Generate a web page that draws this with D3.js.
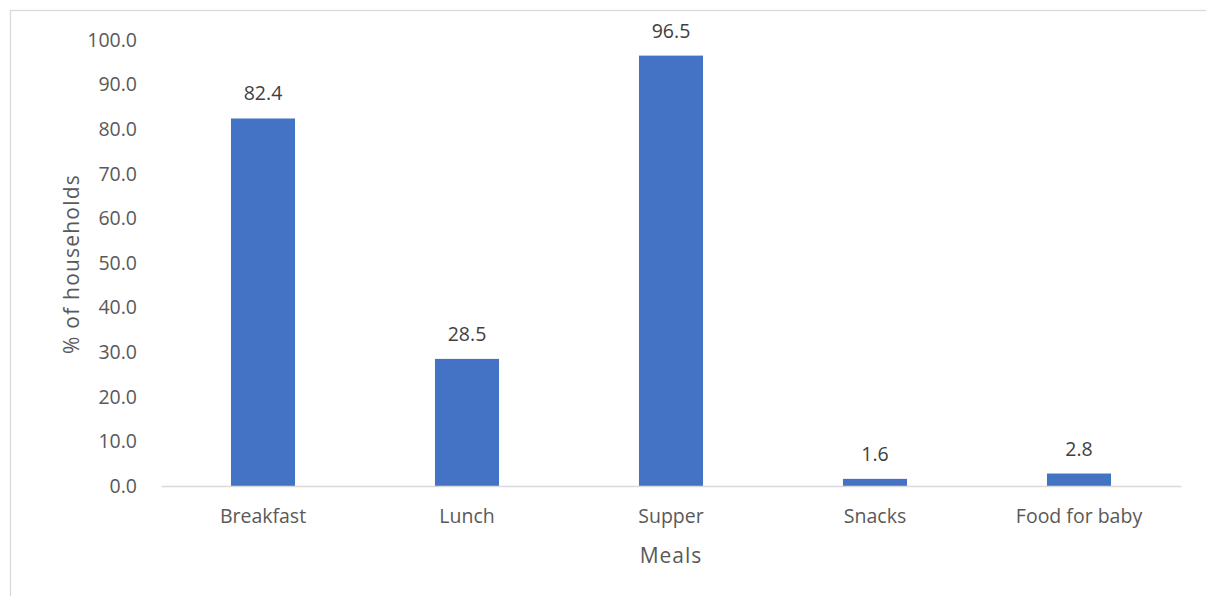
<!DOCTYPE html>
<html>
<head>
<meta charset="utf-8">
<script src="https://cdn.jsdelivr.net/npm/d3@7"></script>
<style>
  html, body { margin: 0; padding: 0; background: #fff; }
  svg { display: block; }
  svg text { font-family: "Open Sans", "Noto Sans", sans-serif; }
</style>
</head>
<body>
<svg id="chart" width="1206" height="596"></svg>
<script>
// Meals eaten by households (% of households)
const meals = ["Breakfast", "Lunch", "Supper", "Snacks", "Food for baby"];
const percentHouseholds = [82.4, 28.5, 96.5, 1.6, 2.8];
const yTicks = [0, 10, 20, 30, 40, 50, 60, 70, 80, 90, 100];

const svg = d3.select("#chart");
const W = 1206, H = 596;
const margin = { left: 161, right: W - 1181, top: 40, bottom: H - 486 };
const textColor = "#595959";
const FONT = '"Open Sans", "Noto Sans", sans-serif';

// chart frame (extends past the right and bottom edges)
svg.append("rect")
  .attr("x", 10.5).attr("y", 10.5)
  .attr("width", W + 20).attr("height", H + 20)
  .attr("fill", "none").attr("stroke", "#D9D9D9").attr("stroke-width", 1.3);

const x = d3.scaleBand()
  .domain(meals)
  .range([margin.left, W - margin.right])
  .paddingInner(0.686).paddingOuter(0.343);

const y = d3.scaleLinear()
  .domain([0, 100])
  .range([H - margin.bottom, margin.top]);

// y axis: labels only
const yAxis = svg.append("g")
  .attr("transform", `translate(${margin.left},0)`)
  .call(d3.axisLeft(y).tickValues(yTicks).tickFormat(d3.format(".1f")).tickSize(0).tickPadding(24))
  .attr("font-family", FONT).attr("font-size", 19.5);
yAxis.select(".domain").remove();
yAxis.selectAll("text").attr("fill", textColor);

// bars
svg.append("g").selectAll("rect")
  .data(meals)
  .join("rect")
  .attr("x", d => x(d))
  .attr("width", x.bandwidth())
  .attr("y", (d, i) => y(percentHouseholds[i]))
  .attr("height", (d, i) => y(0) - y(percentHouseholds[i]))
  .attr("fill", "#4472C4");

// x axis baseline and category labels
const xAxis = svg.append("g")
  .attr("transform", `translate(0,${y(0)})`)
  .call(d3.axisBottom(x).tickSize(0).tickPadding(23))
  .attr("font-family", FONT).attr("font-size", 19.5);
xAxis.select(".domain").attr("stroke", "#D9D9D9").attr("stroke-width", 1.5);
xAxis.selectAll("text").attr("fill", textColor);

// value labels
svg.append("g").selectAll("text")
  .data(meals)
  .join("text")
  .attr("x", d => x(d) + x.bandwidth() / 2)
  .attr("y", (d, i) => y(percentHouseholds[i]) - 18)
  .attr("text-anchor", "middle")
  .attr("fill", "#404040")
  .style("font-size", "19.5px")
  .text((d, i) => d3.format(".1f")(percentHouseholds[i]));

// axis titles
svg.append("text")
  .attr("transform", `translate(79,264) rotate(-90)`)
  .attr("text-anchor", "middle")
  .attr("fill", textColor)
  .style("font-size", "21px")
  .style("letter-spacing", "1.2px")
  .text("% of households");

svg.append("text")
  .attr("x", x.range()[0] + (x.range()[1] - x.range()[0]) / 2)
  .attr("y", 563)
  .attr("text-anchor", "middle")
  .attr("fill", textColor)
  .style("font-size", "21px")
  .style("letter-spacing", "1px")
  .text("Meals");
</script>
</body>
</html>
